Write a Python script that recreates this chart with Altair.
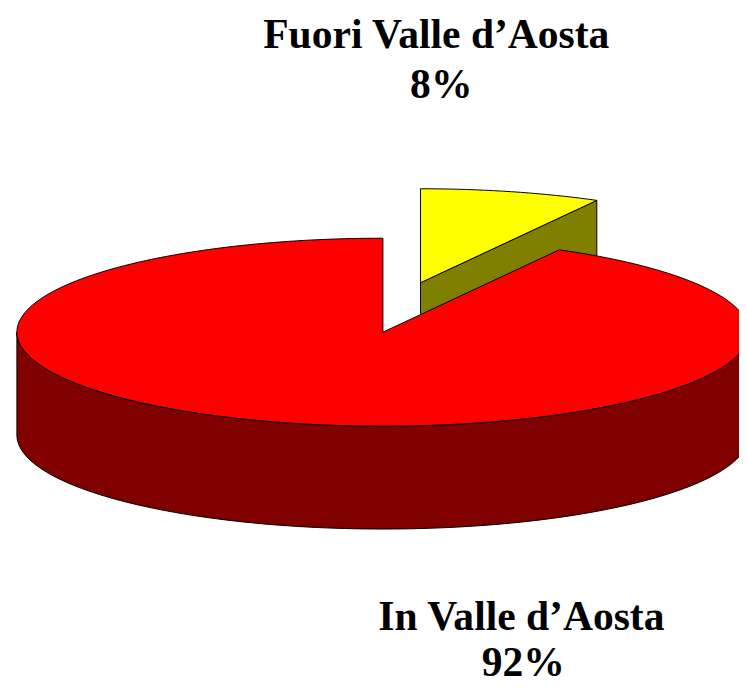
import altair as alt
import numpy as np

# ---- data (clockwise from 12 o'clock) ----
labels = ["Fuori Valle d’Aosta", "In Valle d’Aosta"]
values = [8, 92]
top_colors = ["#FFFF00", "#FF0000"]
side_colors = ["#808000", "#800000"]

# ---- layout of the 3-D pie (pixels in plot area) ----
CX, CY, RX, RY, DEPTH = 379, 324, 370, 95, 104
EXPLODE = [(38, -50), (0, 0)]
N = 240


def pt(t, off, down=0.0):
    return [float(CX + off[0] + RX * np.sin(t)), float(CY + off[1] - RY * np.cos(t) + down)]


def arc(a0, a1, off, down=0.0):
    n = max(2, int(N * abs(a1 - a0) / (2 * np.pi)) + 2)
    return [pt(t, off, down) for t in np.linspace(a0, a1, n)]


def poly(coords, fill):
    ring = coords + [coords[0]]
    return {"type": "Feature", "properties": {"fill": fill},
            "geometry": {"type": "Polygon", "coordinates": [ring]}}


total = float(sum(values))
slices = []
acc = 0.0
for i, v in enumerate(values):
    a0 = 2 * np.pi * acc / total
    acc += v
    a1 = 2 * np.pi * acc / total
    slices.append((i, a0, a1))

# painter's order: farther slices (bisector higher on screen) first
slices.sort(key=lambda s: -np.cos((s[1] + s[2]) / 2))

features = []
for i, a0, a1 in slices:
    off = EXPLODE[i]
    v0 = [CX + off[0], CY + off[1]]
    v1 = [CX + off[0], CY + off[1] + DEPTH]
    # cut faces
    if np.sin(a0) < -1e-9:
        p, q = pt(a0, off), pt(a0, off, DEPTH)
        features.append(poly([v0, p, q, v1], side_colors[i]))
    if np.sin(a1) > 1e-9:
        p, q = pt(a1, off), pt(a1, off, DEPTH)
        features.append(poly([v0, p, q, v1], side_colors[i]))
    # outer side (front half only)
    s0, s1 = max(a0, np.pi / 2), min(a1, 3 * np.pi / 2)
    if s1 > s0:
        topa = arc(s0, s1, off)
        bota = arc(s0, s1, off, DEPTH)[::-1]
        features.append(poly(topa + bota, side_colors[i]))
    # top face
    features.append(poly([v0] + arc(a0, a1, off), top_colors[i]))

pie = alt.Chart(alt.Data(values=features)).mark_geoshape(
    stroke="black", strokeWidth=1
).encode(
    color=alt.Color("properties.fill:N", scale=None)
).project(type="identity", scale=1, translate=[0, 0])


def txt(s, x, y):
    return alt.Chart(alt.Data(values=[{"t": s}])).mark_text(
        font="Liberation Serif", fontSize=42, fontWeight="bold",
        align="center", baseline="alphabetic", color="black"
    ).encode(text="t:N", x=alt.value(x), y=alt.value(y))


layers = [
    pie,
    txt(labels[0], 433, 37),
    txt(f"{values[0]}%", 438, 87),
    txt(labels[1], 519, 625),
    txt(f"{values[1]}%", 521, 672),
]

chart = alt.layer(*layers).properties(
    width=739, height=682, padding=0, autosize="none"
).configure_view(stroke=None)

chart.save("out.html", embed_options={"renderer": "svg", "actions": False})
